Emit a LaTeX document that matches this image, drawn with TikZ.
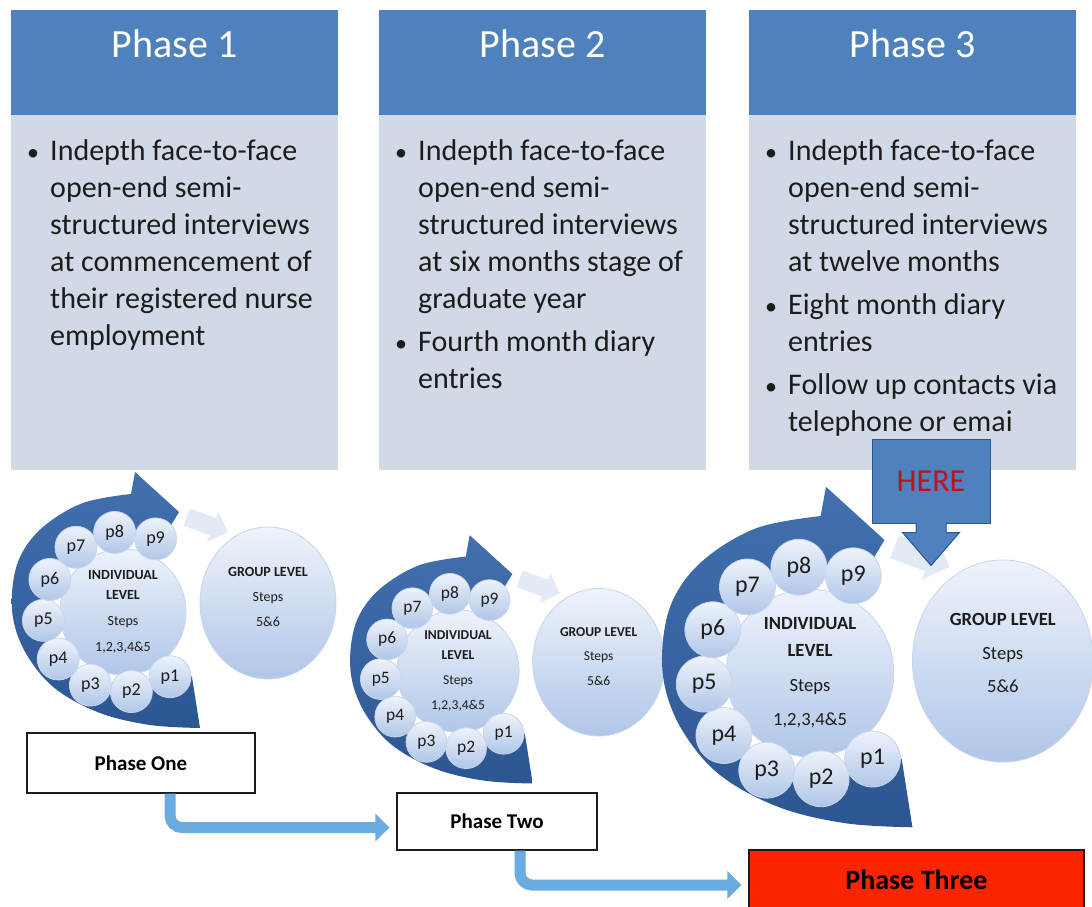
\documentclass[tikz,border=0pt]{standalone}
\usepackage{fontspec}
\setmainfont{Carlito}
\usetikzlibrary{shapes.geometric, shapes.arrows, arrows.meta}
\definecolor{hdrblue}{RGB}{79,129,189}
\definecolor{bodygray}{RGB}{210,217,230}
\definecolor{darkblue}{RGB}{66,112,174}
\definecolor{darkblue2}{RGB}{44,86,146}
\definecolor{balltop}{RGB}{238,243,251}
\definecolor{ballbot}{RGB}{176,198,232}
\definecolor{ballrim}{RGB}{200,213,235}
\definecolor{paleblue}{RGB}{226,234,246}
\definecolor{flowblue}{RGB}{106,172,224}
\definecolor{herered}{RGB}{190,18,32}
\definecolor{hotred}{RGB}{255,36,0}
\definecolor{ink}{RGB}{28,28,28}
\tikzstyle{header} = [rectangle, fill=hdrblue, minimum width=327pt, minimum height=105pt, inner sep=0pt]
\tikzstyle{panel} = [rectangle, fill=bodygray, minimum width=327pt, minimum height=355pt, inner sep=0pt]
\tikzstyle{title} = [text=white, font=\fontsize{40}{48}\selectfont, inner sep=0pt, anchor=base]
\tikzstyle{bullets} = [text=ink, inner sep=0pt, anchor=north west, font=\fontsize{30}{37}\selectfont]
\tikzstyle{bubble} = [top color=balltop, bottom color=ballbot, draw=ballrim, line width=0.8pt, inner sep=0pt, text=ink]
\tikzstyle{ball} = [bubble, circle]
\tikzstyle{pball} = [ball, minimum size=42pt, font=\fontsize{18}{18}\selectfont]
\tikzstyle{phasebox} = [rectangle, draw=ink, line width=1.2pt, fill=white, text=black, font=\bfseries\fontsize{21}{21}\selectfont]
\tikzstyle{flow} = [line width=11pt, flowblue, rounded corners=12pt, -{Triangle[length=14pt,width=27pt]}]
\tikzstyle{herebox} = [rectangle, fill=hdrblue, draw=darkblue2, line width=1pt, minimum width=118pt, minimum height=83pt, text=herered, font=\fontsize{32}{32}\selectfont]
\newcommand{\bul}{\makebox[23pt][l]{\fontsize{24}{24}\selectfont\textbullet}}
\tikzset{
  phasecycle/.pic={
    \path[top color=darkblue, bottom color=darkblue2] (77,-116) -- (69,-65) -- (-43:82)
      arc[start angle=-43, end angle=-288, radius=82] -- (38,70) -- (56,100) -- (12,140)
      -- plot[smooth, tension=0.6] coordinates {(8,118) (-40,109) (-80,85) (-103,55) (-111,19)
         (-108,-15) (-93,-48) (-66,-78) (-23,-101) (27,-113) (77,-116)} -- cycle;
    \node[ball, minimum size=126pt, align=center, font=\fontsize{14}{20}\selectfont] (-ind) at (0,0)
      {\textbf{INDIVIDUAL}\\\textbf{LEVEL}\\[6pt]Steps\\[6pt]1,2,3,4\&5};
    \foreach \k in {1,...,9}
      \node[pball] (-p\k) at ({66+30*(9-\k)}:80) {p\k};
    \node[single arrow, single arrow head extend=7pt, minimum height=44pt, inner sep=9pt,
      fill=paleblue, rotate=-20] (-flow) at (80,89) {};
    \node[bubble, ellipse, minimum width=136pt, minimum height=152pt] (-grp) at (145,9) {};
    \node[align=center, text=ink, font=\fontsize{14}{25}\selectfont] (-grptxt) at (145,15)
      {\textbf{GROUP LEVEL}\\Steps\\5\&6};
  }
}
\begin{document}
\begin{tikzpicture}[x=1pt, y=1pt]
\path[use as bounding box, fill=white] (0,0) rectangle (1092,906);

\node (bd1) [panel] at (174.5,613.5) {};
\node (bd2) [panel] at (542.5,613.5) {};
\node (bd3) [panel] at (912.5,613.5) {};
\node (hd1) [header] at (174.5,843.5) {};
\node (hd2) [header] at (542.5,843.5) {};
\node (hd3) [header] at (912.5,843.5) {};
\node (ttl1) [title] at (174.5,848) {Phase 1};
\node (ttl2) [title] at (542.5,848) {Phase 2};
\node (ttl3) [title] at (912.5,848) {Phase 3};

\node (txt1) [bullets] at (27,772) {\begin{tabular}{@{}l@{}l@{}}
  \bul & Indepth face-to-face\\ & open-end semi-\\ & structured interviews\\
  & at commencement of\\ & their registered nurse\\ & employment
\end{tabular}};
\node (txt2) [bullets] at (395,772) {\begin{tabular}{@{}l@{}l@{}}
  \bul & Indepth face-to-face\\ & open-end semi-\\ & structured interviews\\
  & at six months stage of\\ & graduate year\\[6pt]
  \bul & Fourth month diary\\ & entries
\end{tabular}};
\node (txt3) [bullets] at (765,772) {\begin{tabular}{@{}l@{}l@{}}
  \bul & Indepth face-to-face\\ & open-end semi-\\ & structured interviews\\
  & at twelve months\\[6pt]
  \bul & Eight month diary\\ & entries\\[6pt]
  \bul & Follow up contacts via\\ & telephone or emai
\end{tabular}};

\pic[transform shape] (c1) at (123,294) {phasecycle};
\pic[scale=0.97, transform shape] (c2) at (458,235) {phasecycle};
\pic[scale=1.33, transform shape] (c3) at (810,233) {phasecycle};

\node (here) [herebox] at (931,424.5) {HERE};
\filldraw[fill=hdrblue, draw=darkblue2, line width=1pt] ([xshift=-15pt,yshift=1pt]here.south) -- ++(0,-10) -- ++(-13.5,0) -- ++(28.5,-33) -- ++(28.5,33) -- ++(-13.5,0) -- ++(0,10);

\node (one) [phasebox, minimum width=228pt, minimum height=60pt] at (141,143) {Phase One};
\node (two) [phasebox, minimum width=200pt, minimum height=57pt] at (497,84.5) {Phase Two};
\node (three) [phasebox, fill=hotred, minimum width=335pt, minimum height=60pt, font=\bfseries\fontsize{28}{28}\selectfont] at (916.5,26) {Phase Three};

\draw [flow] ([xshift=29pt]one.south) |- ([xshift=-7pt,yshift=-6pt]two.west);
\draw [flow] ([xshift=23pt]two.south) |- ([xshift=-7pt,yshift=-5pt]three.west);
\end{tikzpicture}
\end{document}
